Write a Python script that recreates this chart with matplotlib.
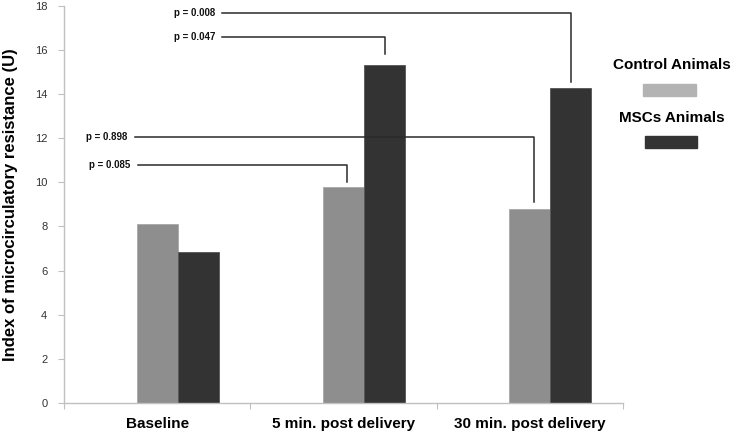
import numpy as np
import matplotlib
matplotlib.use("Agg")
import matplotlib.pyplot as plt
from matplotlib.patches import Rectangle

plt.rcParams['font.family'] = ['Liberation Sans', 'DejaVu Sans']

# -------- Data --------
categories = ["Baseline", "5 min. post delivery", "30 min. post delivery"]
control = [8.1, 9.8, 8.8]
mscs = [6.85, 15.33, 14.25]
series_names = ["Control Animals", "MSCs Animals"]

# comparisons: (label, from x, to x, line level, drop end)
p_labels = ["p = 0.008", "p = 0.047", "p = 0.898", "p = 0.085"]
p_start = [0.35, 0.35, -0.12, -0.105]
p_end = [2.22, 1.22, 2.02, 1.02]
p_level = [17.66, 16.6, 12.05, 10.8]
p_drop = [14.55, 15.8, 9.12, 10.0]

# -------- Plot --------
fig = plt.figure(figsize=(7.33, 4.33), dpi=100)
ax = fig.add_axes([0.0873, 0.0693, 0.7627, 0.9177])

x = np.arange(len(categories))
w = 0.22
ax.bar(x, control, width=w, color="#8e8e8e", edgecolor="#a8a8a8", linewidth=0.6, zorder=2)
ax.bar(x + w, mscs, width=w, color="#333333", edgecolor="#555555", linewidth=0.6, zorder=2)

for lab, x0, x1, lv, dr in zip(p_labels, p_start, p_end, p_level, p_drop):
    ax.plot([x0, x1, x1], [lv, lv, dr], color="#2a2a2a", lw=1.1, zorder=3)
    ax.text(x0 - 0.04, lv, lab, ha="right", va="center", fontsize=7,
            fontweight="bold", color="#111111")

ax.set_xlim(-0.5, 2.5)
ax.set_ylim(0, 18)
ax.set_yticks(np.arange(0, 19, 2))
ax.set_xticks([-0.5, 0.5, 1.5, 2.5])
ax.set_xticklabels([])
ax.set_xticks(x, minor=True)
ax.set_xticklabels(categories, minor=True, fontsize=11, fontweight="bold")
ax.tick_params(axis="x", which="minor", length=0, pad=10)
ax.tick_params(axis="x", which="major", length=4, color="#c0c0c0", direction="out")
ax.tick_params(axis="y", length=4, color="#c0c0c0", labelsize=8, labelcolor="#333333", pad=8)

for s in ["top", "right"]:
    ax.spines[s].set_visible(False)
for s in ["left", "bottom"]:
    ax.spines[s].set_color("#c0c0c0")
    ax.spines[s].set_linewidth(1.0)

ax.set_ylabel("Index of microcirculatory resistance (U)", fontsize=12,
              fontweight="bold", labelpad=12)

# legend
fig.text(672 / 733, 1 - 65 / 433, series_names[0], ha="center", va="center",
         fontsize=11, fontweight="bold")
fig.patches.append(Rectangle((643 / 733, 1 - 96 / 433), 53 / 733, 12 / 433,
                             transform=fig.transFigure, color="#b3b3b3"))
fig.text(672 / 733, 1 - 118 / 433, series_names[1], ha="center", va="center",
         fontsize=11, fontweight="bold")
fig.patches.append(Rectangle((645 / 733, 1 - 148 / 433), 52 / 733, 12 / 433,
                             transform=fig.transFigure, color="#333333"))

fig.savefig("out.png", dpi=100)
